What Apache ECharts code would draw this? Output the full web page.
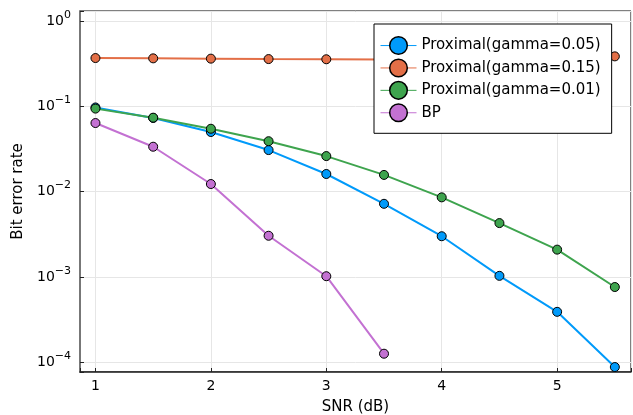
<!DOCTYPE html>
<html>
<head>
<meta charset="utf-8">
<script src="https://cdn.jsdelivr.net/npm/echarts@6/dist/echarts.min.js"></script>
<style>
 html,body{margin:0;padding:0;background:#fff;}
 #main{width:633px;height:415px;}
</style>
</head>
<body>
<div id="main"></div>
<script>
 // 数据
 var snr = [1, 1.5, 2, 2.5, 3, 3.5, 4, 4.5, 5, 5.5];
 var berG005 = [0.097, 0.073, 0.050, 0.0307, 0.0161, 0.0072, 0.0030, 0.00103, 0.00039, 0.0000879];
 var berG015 = [0.368, 0.365, 0.362, 0.358, 0.356, 0.355, 0.358, 0.365, 0.372, 0.385];
 var berG001 = [0.094, 0.0736, 0.0546, 0.039, 0.0261, 0.0157, 0.00857, 0.00428, 0.00209, 0.000762];
 var snrBP = [1, 1.5, 2, 2.5, 3, 3.5];
 var berBP = [0.0637, 0.0336, 0.01228, 0.00304, 0.00102, 0.000126];
 var seriesNames = ['Proximal(gamma=0.05)', 'Proximal(gamma=0.15)', 'Proximal(gamma=0.01)', 'BP'];
 var seriesColors = ['#009AFA', '#E36F47', '#3EA44E', '#C371D2'];

 var FONT = 'DejaVu Sans';

 function pairs(xs, ys){
	var out = [];
	for (var i = 0; i < ys.length; i++) out.push([xs[i], ys[i]]);
	return out;
 }

 function makeSeries(idx, data){
	return {
		name: seriesNames[idx],
		type: 'line',
		data: data,
		symbol: 'circle',
		symbolSize: 9,
		lineStyle: { color: seriesColors[idx], width: 2 },
		itemStyle: { color: seriesColors[idx], borderColor: '#000', borderWidth: 1 },
		emphasis: { disabled: true },
		animation: false
	};
 }

 var myChart = echarts.init(document.getElementById('main'));
 var option = {
	backgroundColor: '#fff',
	textStyle: { fontFamily: FONT },
	grid: {
		left: 80, right: 2, top: 11, bottom: 43,
		outerBoundsMode: 'none',
		containLabel: false,
		show: true,
		borderColor: '#000',
		borderWidth: 1
	},
	legend: {
		orient: 'vertical',
		left: 374,
		top: 24,
		width: 238,
		padding: [12, 11, 11, 6],
		itemWidth: 36,
		itemHeight: 22,
		itemGap: 3.3,
		backgroundColor: '#fff',
		borderColor: '#000',
		borderWidth: 1,
		lineStyle: { width: 1 },
		itemStyle: { borderWidth: 1.5 },
		textStyle: { fontFamily: FONT, fontSize: 15, color: '#000' },
		data: seriesNames
	},
	xAxis: {
		type: 'value',
		min: 0.866,
		max: 5.64,
		name: 'SNR (dB)',
		nameLocation: 'middle',
		nameGap: 28,
		nameTextStyle: { fontFamily: FONT, fontSize: 15, color: '#000' },
		axisLine: { show: true, lineStyle: { color: '#222', width: 1.5 } },
		axisTick: { inside: true, length: 4, lineStyle: { color: '#222' } },
		axisLabel: {
			fontFamily: FONT, fontSize: 14, color: '#000', margin: 7,
			formatter: function(v){ return Math.abs(v - Math.round(v)) < 1e-6 ? String(Math.round(v)) : ''; }
		},
		splitLine: { show: true, lineStyle: { color: '#e6e6e6', width: 1 } }
	},
	yAxis: {
		type: 'log',
		logBase: 10,
		min: 7.69e-5,
		max: 1.31,
		name: 'Bit error rate',
		nameLocation: 'middle',
		nameGap: 51,
		nameTextStyle: { fontFamily: FONT, fontSize: 15, color: '#000' },
		axisLine: { show: true, lineStyle: { color: '#777', width: 2 } },
		axisTick: { inside: true, length: 4, lineStyle: { color: '#222' } },
		axisLabel: {
			margin: 9,
			formatter: function(v){
				var e = Math.log10(v);
				if (Math.abs(e - Math.round(e)) > 1e-6) return '';
				e = Math.round(e);
				return '{b|10}{s|' + (e < 0 ? '\u2212' + (-e) : e) + '}';
			},
			rich: {
				b: { fontFamily: FONT, fontSize: 14, color: '#000' },
				s: { fontFamily: FONT, fontSize: 11, color: '#000', padding: [0, 0, 12, 0] }
			}
		},
		splitLine: { show: true, lineStyle: { color: '#e6e6e6', width: 1 } }
	},
	series: [
		makeSeries(0, pairs(snr, berG005)),
		makeSeries(1, pairs(snr, berG015)),
		makeSeries(2, pairs(snr, berG001)),
		makeSeries(3, pairs(snrBP, berBP))
	]
 };
 myChart.setOption(option, true);
</script>
</body>
</html>
